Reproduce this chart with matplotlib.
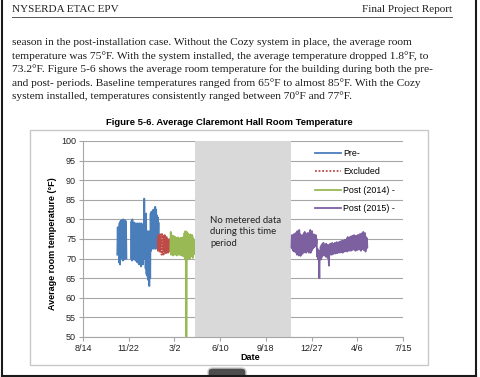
import numpy as np
import pandas as pd
import matplotlib
matplotlib.use('Agg')
import matplotlib.pyplot as plt
from matplotlib.patches import Rectangle, FancyBboxPatch
from matplotlib.lines import Line2D

# Figure in pixels of the page screenshot
W, H = 480, 377


def fx(x):
    return x / W


def fy(y):
    return 1 - y / H


# ---- data (one reading per day) ----
pre_start = '2013-10-28'
pre_temp = [71, 78, 71.5, 77.5, 69, 79, 68.5, 79.5, 70, 79.8,
            70.5, 79.5, 69.5, 80, 70, 79.6, 69.8, 79.8, 70.2, 79.5,
            70,
            np.nan, np.nan, np.nan, np.nan, np.nan, np.nan, np.nan, np.nan, np.nan,
            70, 79.5, 69.5, 80, 70.5, 79, 69.8, 79.2, 73, 78.8,
            69.5, 79, 70, 78.5, 69, 79, 71, 78, 68.5, 79,
            70, 78, 68, 79, 69.5, 77, 68.5, 78.5, 71, 85.3,
            70, 78, 67.5, 81.5, 66, 77, 65.5, 76.5, 64.5, 77,
            63, 76, 65, 81.5, 72, 82, 72.5, 81, 73, 82.5,
            72.5, 82, 73, 83.2, 72.5, 82.5, 73.5, 81, 72.5, 80.5,
            73.5, 79]

excluded_start = '2014-01-24'
excluded_temp = [75, 72, 76, 72.5, 75.5, 71.5, 76.2, 72, 75, 71,
                 76.5, 72.5, 75.5, 70.8, 75.8, 72, 76, 71.5, 74.5, 71.2,
                 75.5, 72, 75, 71.5, 74.8, 72, 75.2, 71.8, 74.5, 72.2,
                 74.8, 72.5]

post14_start = '2014-02-21'
post14_temp = [72, 76.8, 71, 76, 71.5, 75.5, 70.8, 75.8, 71.2, 75,
               71, 75.5, 71.5, 75.2, 70.8, 75, 71.2, 75.4, 71, 75.2,
               71.3, 75, 70.9, 75.3, 71.2, 75.1, 70.7, 75.4, 71, 75,
               70.5, 76.5, 69.8, 77, 70, 0, 76.8, 70.2, 76.5, 69.8,
               76, 70.5, 75.8, 70, 76.2, 70.6, 75.5, 71, 76, 70.2,
               75.2, 71, 74.5]

post15_start = '2014-11-13'
post15_temp = [73, 76, 72.5, 75.5, 72, 76.2, 71.8, 75.8, 72.2, 76.5,
               71.5, 76, 71, 77, 71.2, 76.5, 70.8, 77.3, 71.5, 76.2,
               70.7, 75.8, 71.5, 76, 71.2, 75.5, 72, 76.4, 71.6, 76.8,
               72, 76, 71.5, 75.8, 72.2, 76.5, 71.8, 76, 71.5, 76.6,
               72, 77.3, 71.5, 76.5, 72, 77, 72.5, 76, 72.8, 76.2,
               73, 75.5, 73.2, 76, 73.5, 75, 70.5, 72.5, 69.8, 72,
               70, 65, 72, 70, 73, 69.8, 73.5, 70.5, 73.8, 71,
               74, 70.8, 73.2, 71.2, 73.5, 70.5, 73.8, 71, 73, 70.2,
               73.5, 71, 68.2, 72.5, 71, 73.8, 71.2, 73.5, 71, 74,
               71.5, 73.6, 71.2, 73.8, 71.8, 74, 71.3, 73.5, 71.6, 74.2,
               71.4, 73.8, 71.8, 74, 71.5, 74.3, 72, 73.8, 71.6, 74.5,
               72, 74, 71.5, 74.6, 72.2, 74.2, 71.8, 74.8, 72, 74.5,
               72.2, 75, 71.8, 75.5, 72.4, 74.8, 72, 75.2, 72.5, 75.6,
               72, 75, 72.6, 75.8, 72.2, 75.2, 72.8, 76, 72.4, 75.5,
               72, 75.8, 72.6, 75.4, 72.2, 76, 72.8, 75.6, 72.3, 76.2,
               72.6, 75.8, 72, 76.4, 72.8, 76, 72.4, 76.8, 72.2, 76.2,
               72.6, 76.5, 71.8, 75.5, 72.5, 75.2, 73]

no_data_start = '2014-04-16'
no_data_end = '2014-11-12'

tick_labels = ['8/14', '11/22', '3/2', '6/10', '9/18', '12/27', '4/6', '7/15']
tick_dates = pd.date_range('2013-08-14', periods=len(tick_labels), freq='100D')

series_names = ['Pre-', 'Excluded', 'Post (2014) -', 'Post (2015) -']
colors = {
    'Pre-': '#4a7ebb',
    'Excluded': '#be4b48',
    'Post (2014) -': '#98b954',
    'Post (2015) -': '#7d60a0',
}

header_left = 'NYSERDA ETAC EPV'
header_right = 'Final Project Report'
paragraph = [
    'season in the post-installation case. Without the Cozy system in place, the average room',
    'temperature was 75\u00b0F. With the system installed, the average temperature dropped 1.8\u00b0F, to',
    '73.2\u00b0F. Figure 5-6 shows the average room temperature for the building during both the pre-',
    'and post- periods. Baseline temperatures ranged from 65\u00b0F to almost 85\u00b0F. With the Cozy',
    'system installed, temperatures consistently ranged between 70\u00b0F and 77\u00b0F.',
]

series = {
    'Pre-': (pre_start, pre_temp),
    'Excluded': (excluded_start, excluded_temp),
    'Post (2014) -': (post14_start, post14_temp),
    'Post (2015) -': (post15_start, post15_temp),
}

fig = plt.figure(figsize=(W / 100, H / 100), dpi=100)
fig.patch.set_facecolor('white')

# ---- page text ----
serif = 'Liberation Serif'
fig.text(fx(12), fy(9), header_left, family=serif, fontsize=8.0, color='#222222', va='center')
fig.text(fx(452), fy(9), header_right, family=serif, fontsize=8.0, color='#222222', va='center', ha='right')
fig.add_artist(Line2D([fx(12), fx(452)], [fy(17), fy(17)], color='#555555', lw=0.7))

for i, line in enumerate(paragraph):
    fig.text(fx(12), fy(42.5 + i * 13.5), line, family=serif, fontsize=8.2, color='#1a1a1a', va='center')

# page border
border = dict(color='#1a1a1a', lw=1.5)
fig.add_artist(Line2D([fx(1.5), fx(1.5)], [fy(0), fy(375.5)], **border))
fig.add_artist(Line2D([fx(1.5), fx(476)], [fy(375.5), fy(375.5)], **border))
fig.add_artist(Line2D([fx(476), fx(476)], [fy(0), fy(375.5)], **border))

# chart frame
fig.add_artist(Rectangle((fx(30), fy(365)), (428 - 30) / W, (365 - 130) / H,
                         fill=False, ec='#c8c8c8', lw=1.0))
fig.text(fx(229), fy(122), 'Figure 5-6. Average Claremont Hall Room Temperature',
         family='Liberation Sans', weight='bold', fontsize=6.8, ha='center', va='center')

# ---- chart ----
ax = fig.add_axes([fx(83), fy(337), (403 - 83) / W, (337 - 141) / H])

for name in series_names:
    start, temps = series[name]
    dates = pd.date_range(start, periods=len(temps), freq='D')
    ls = (0, (1, 0.6)) if name == 'Excluded' else '-'
    ax.plot(dates, temps, color=colors[name], lw=1.3, ls=ls, zorder=3)

ax.axvspan(pd.Timestamp(no_data_start), pd.Timestamp(no_data_end), color='#d9d9d9', lw=0, zorder=1.5)

ax.set_xlim(tick_dates[0], tick_dates[-1])
ax.set_ylim(50, 100)
ax.set_xticks(tick_dates)
ax.set_xticklabels(tick_labels)
ax.set_yticks(np.arange(50, 101, 5))

ax.set_axisbelow(True)
ax.yaxis.grid(True, color='#a6a6a6', lw=0.8)
for side in ['top', 'right']:
    ax.spines[side].set_visible(False)
for side in ['left', 'bottom']:
    ax.spines[side].set_color('#a6a6a6')
    ax.spines[side].set_linewidth(0.8)
ax.tick_params(length=3, width=0.8, color='#a6a6a6', labelsize=6.5, pad=2, labelcolor='#222222')
for lab in ax.get_xticklabels() + ax.get_yticklabels():
    lab.set_family('Liberation Sans')

fig.text(fx(210), fy(216), 'No metered data\nduring this time\nperiod', family='Lato',
         fontsize=6.9, color='#222222', va='top', ha='left', linespacing=1.35)

fig.text(fx(53), fy(244), 'Average room temperature (\u00b0F)', family='Liberation Sans',
         weight='bold', fontsize=6.5, rotation=90, ha='center', va='center')
fig.text(fx(250), fy(357.5), 'Date', family='Liberation Sans', weight='bold', fontsize=6.5,
         ha='center', va='center')

handles = [Line2D([], [], color=colors[n], lw=1.3, ls=(0, (1, 1)) if n == 'Excluded' else '-')
           for n in series_names]
leg = fig.legend(handles, series_names, loc='upper left', bbox_to_anchor=(fx(315), fy(149)),
                 frameon=False, handlelength=2.9, handletextpad=0.3,
                 labelspacing=1.05, borderpad=0, borderaxespad=0,
                 prop={'family': 'Liberation Sans', 'size': 6.4})

# little page tab at the bottom
fig.add_artist(FancyBboxPatch((fx(208), fy(381)), (246 - 208) / W, (381 - 368) / H,
                              boxstyle='round,pad=0,rounding_size=0.01',
                              fc='#4d4d4d', ec='#cccccc', lw=1.0))

fig.savefig('out.png', dpi=100)
